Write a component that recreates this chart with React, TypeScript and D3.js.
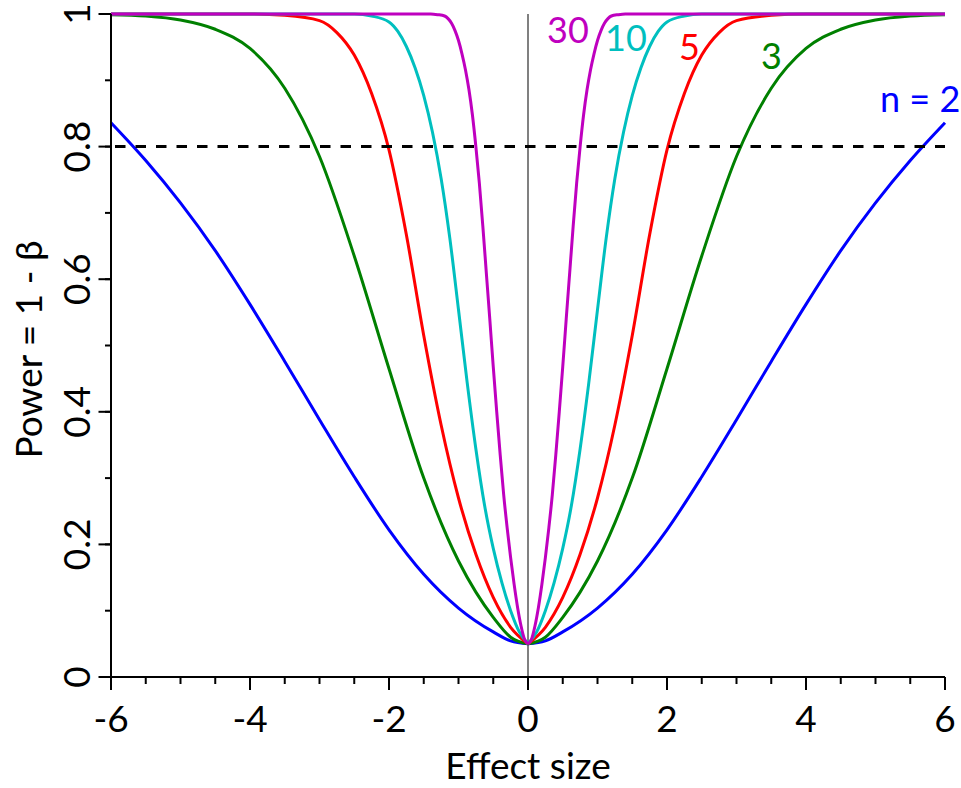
import React from "react";
import * as d3 from "d3";

// ---- Data ----
const effectN2 = [-6, -5.5, -5, -4.5, -4, -3.5, -3, -2.5, -2, -1.5, -1, -0.5, -0.25, 0, 0.25, 0.5, 1, 1.5, 2, 2.5, 3, 3.5, 4, 4.5, 5, 5.5, 6];
const powerN2 = [0.836, 0.779, 0.715, 0.643, 0.562, 0.476, 0.388, 0.302, 0.222, 0.155, 0.104, 0.068, 0.0545, 0.05, 0.0545, 0.068, 0.104, 0.155, 0.222, 0.302, 0.388, 0.476, 0.562, 0.643, 0.715, 0.779, 0.836];

const effectN3 = [-6, -5.5, -5, -4.5, -4, -3.5, -3, -2.5, -2, -1.5, -1, -0.75, -0.5, -0.25, 0, 0.25, 0.5, 0.75, 1, 1.5, 2, 2.5, 3, 3.5, 4, 4.5, 5, 5.5, 6];
const powerN3 = [0.999, 0.997, 0.991, 0.977, 0.948, 0.888, 0.785, 0.635, 0.465, 0.3, 0.175, 0.128, 0.09, 0.06, 0.05, 0.06, 0.09, 0.128, 0.175, 0.3, 0.465, 0.635, 0.785, 0.888, 0.948, 0.977, 0.991, 0.997, 0.999];

const effectN5 = [-6, -5, -4, -3.5, -3, -2.75, -2.5, -2.25, -2, -1.75, -1.5, -1.25, -1, -0.75, -0.5, -0.25, 0, 0.25, 0.5, 0.75, 1, 1.25, 1.5, 1.75, 2, 2.25, 2.5, 2.75, 3, 3.5, 4, 5, 6];
const powerN5 = [1, 1, 1, 0.998, 0.99, 0.972, 0.938, 0.88, 0.795, 0.667, 0.515, 0.38, 0.27, 0.185, 0.12, 0.075, 0.05, 0.075, 0.12, 0.185, 0.27, 0.38, 0.515, 0.667, 0.795, 0.88, 0.938, 0.972, 0.99, 0.998, 1, 1, 1];

const effectN10 = [-6, -4, -3, -2.5, -2.25, -2, -1.875, -1.75, -1.625, -1.5, -1.375, -1.25, -1.125, -1, -0.875, -0.75, -0.625, -0.5, -0.375, -0.25, -0.125, 0, 0.125, 0.25, 0.375, 0.5, 0.625, 0.75, 0.875, 1, 1.125, 1.25, 1.375, 1.5, 1.625, 1.75, 1.875, 2, 2.25, 2.5, 3, 4, 6];
const powerN10 = [1, 1, 1, 1, 0.997, 0.988, 0.974, 0.951, 0.919, 0.877, 0.822, 0.752, 0.662, 0.554, 0.444, 0.344, 0.259, 0.194, 0.142, 0.1, 0.068, 0.05, 0.068, 0.1, 0.142, 0.194, 0.259, 0.344, 0.444, 0.554, 0.662, 0.752, 0.822, 0.877, 0.919, 0.951, 0.974, 0.988, 0.997, 1, 1, 1, 1];

const effectN30 = [-6, -5, -4, -3, -2, -1.4, -1.3, -1.2, -1.15, -1.1, -1.05, -1, -0.95, -0.9, -0.85, -0.8, -0.75, -0.7, -0.65, -0.6, -0.55, -0.5, -0.45, -0.4, -0.35, -0.3, -0.25, -0.2, -0.15, -0.1, -0.05, 0, 0.05, 0.1, 0.15, 0.2, 0.25, 0.3, 0.35, 0.4, 0.45, 0.5, 0.55, 0.6, 0.65, 0.7, 0.75, 0.8, 0.85, 0.9, 0.95, 1, 1.05, 1.1, 1.15, 1.2, 1.3, 1.4, 2, 3, 4, 5, 6];
const powerN30 = [1, 1, 1, 1, 1, 1, 0.999, 0.997, 0.993, 0.986, 0.975, 0.96, 0.94, 0.916, 0.886, 0.848, 0.8, 0.745, 0.68, 0.61, 0.54, 0.468, 0.4, 0.335, 0.275, 0.225, 0.18, 0.14, 0.105, 0.077, 0.057, 0.05, 0.057, 0.077, 0.105, 0.14, 0.18, 0.225, 0.275, 0.335, 0.4, 0.468, 0.54, 0.61, 0.68, 0.745, 0.8, 0.848, 0.886, 0.916, 0.94, 0.96, 0.975, 0.986, 0.993, 0.997, 0.999, 1, 1, 1, 1, 1, 1];

const seriesLabels = ["n = 2", "3", "5", "10", "30"];
const xTickValues = [-6, -4, -2, 0, 2, 4, 6];
const yTickValues = [0, 0.2, 0.4, 0.6, 0.8, 1];
const xMinorValues = d3.range(-6, 6.001, 0.5);
const yMinorValues = d3.range(0, 1.001, 0.1);
const targetPower = 0.8;

// ---- Layout ----
const W = 961;
const H = 788;
const X0 = 111;
const X1 = 945;
const Y0 = 677;
const Y1 = 14;
const FONT = "Lato, 'Open Sans', sans-serif";

const colors = ["#0000ff", "#008000", "#ff0000", "#00bfbf", "#bf00bf"];
const labelPos = [
  { x: 880, y: 112 },
  { x: 761, y: 69 },
  { x: 679, y: 60 },
  { x: 605, y: 51 },
  { x: 547, y: 43 },
];

export default function App() {
  const x = d3.scaleLinear().domain([-6, 6]).range([X0, X1]);
  const y = d3.scaleLinear().domain([0, 1]).range([Y0, Y1]);

  const series = [
    [effectN2, powerN2],
    [effectN3, powerN3],
    [effectN5, powerN5],
    [effectN10, powerN10],
    [effectN30, powerN30],
  ].map(([xs, ps]) => xs.map((v, i) => [v, ps[i]] as [number, number]));

  const line = d3
    .line<[number, number]>()
    .x((d) => x(d[0]))
    .y((d) => y(d[1]))
    .curve(d3.curveMonotoneX);

  return (
    <svg
      width={W}
      height={H}
      style={{ position: "absolute", left: 0, top: 0, background: "#fff" }}
      fontFamily={FONT}
    >
      <rect x={0} y={0} width={W} height={H} fill="#fff" />
      {/* zero line */}
      <line x1={x(0)} x2={x(0)} y1={y(1)} y2={y(0)} stroke="#808080" strokeWidth={2} />

      {/* curves */}
      {series.map((pts, i) => {
        const left = pts.filter((p) => p[0] <= 0);
        const right = pts.filter((p) => p[0] >= 0);
        return (
          <g key={i} fill="none" stroke={colors[i]} strokeWidth={3} strokeLinejoin="round">
            <path d={line(left) || ""} />
            <path d={line(right) || ""} />
          </g>
        );
      })}

      {/* 0.8 dashed line */}
      <line
        x1={x(-6)}
        x2={x(6)}
        y1={y(targetPower)}
        y2={y(targetPower)}
        stroke="#000"
        strokeWidth={3}
        strokeDasharray="10.5 10"
        strokeDashoffset={-4}
      />

      {/* axes */}
      <line x1={X0} x2={X0} y1={Y1} y2={Y0} stroke="#000" strokeWidth={2} />
      <line x1={X0} x2={X1} y1={Y0} y2={Y0} stroke="#000" strokeWidth={2} />

      {yMinorValues.map((v, i) => (
        <line key={"ym" + i} x1={X0 - 6} x2={X0} y1={y(v)} y2={y(v)} stroke="#000" strokeWidth={2} />
      ))}
      {yTickValues.map((v) => (
        <g key={"y" + v}>
          <line x1={X0 - 12.5} x2={X0} y1={y(v)} y2={y(v)} stroke="#000" strokeWidth={2} />
          <text
            transform={`translate(90,${y(v)}) rotate(-90)`}
            textAnchor="middle"
            fontSize={37}
            fill="#000"
          >
            {String(v)}
          </text>
        </g>
      ))}

      {xMinorValues.map((v, i) => (
        <line key={"xm" + i} x1={x(v)} x2={x(v)} y1={Y0} y2={Y0 + 7} stroke="#000" strokeWidth={2} />
      ))}
      {xTickValues.map((v) => (
        <g key={"x" + v}>
          <line x1={x(v)} x2={x(v)} y1={Y0} y2={Y0 + 13} stroke="#000" strokeWidth={2} />
          <text x={x(v)} y={732} textAnchor="middle" fontSize={37} fill="#000">
            {String(v)}
          </text>
        </g>
      ))}

      {/* axis titles */}
      <text x={(X0 + X1) / 2} y={779} textAnchor="middle" fontSize={37} fill="#000">
        Effect size
      </text>
      <text
        transform={`translate(42,${(Y0 + Y1) / 2 + 4}) rotate(-90)`}
        textAnchor="middle"
        fontSize={37}
        fill="#000"
      >
        Power = 1 - β
      </text>

      {/* series labels */}
      {seriesLabels.map((t, i) => (
        <text key={t} x={labelPos[i].x} y={labelPos[i].y} fontSize={36} fill={colors[i]}>
          {t}
        </text>
      ))}
    </svg>
  );
}
